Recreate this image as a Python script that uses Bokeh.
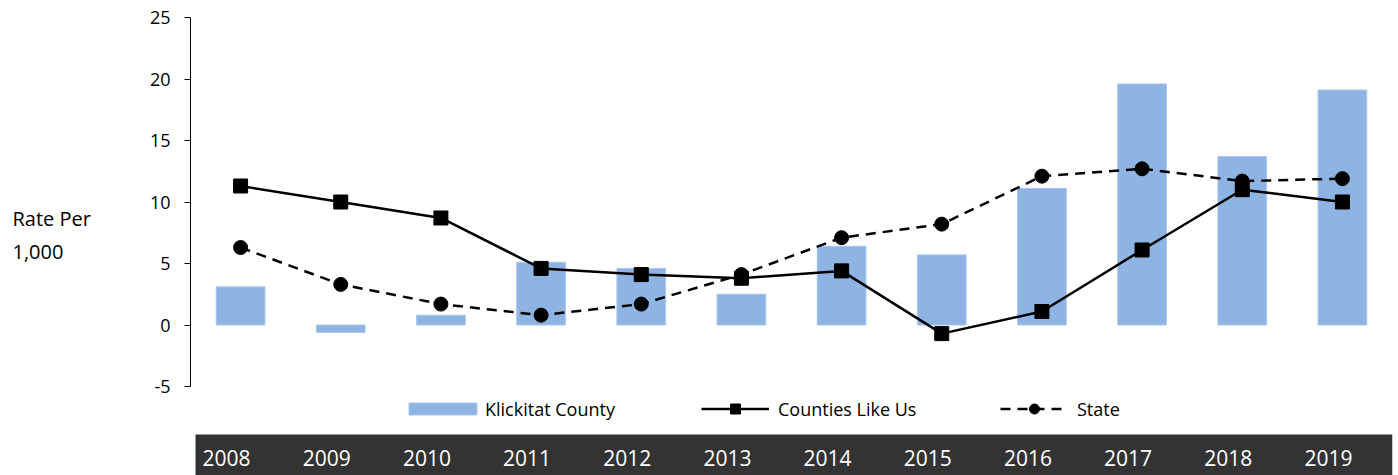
from bokeh.plotting import figure
from bokeh.models import (Range1d, FactorRange, FixedTicker, Legend, LegendItem,
                          PrintfTickFormatter, BoxAnnotation)
from bokeh.layouts import row
from bokeh.embed import file_html
from bokeh.resources import INLINE
from bokeh.core.properties import value

years = ["2008", "2009", "2010", "2011", "2012", "2013",
         "2014", "2015", "2016", "2017", "2018", "2019"]
klickitat = [3.1, -0.6, 0.8, 5.1, 4.6, 2.5, 6.4, 5.7, 11.1, 19.6, 13.7, 19.1]
counties_like_us = [11.3, 10.0, 8.7, 4.6, 4.1, 3.8, 4.4, -0.7, 1.1, 6.1, 11.0, 10.0]
state = [6.3, 3.3, 1.7, 0.8, 1.7, 4.1, 7.1, 8.2, 12.1, 12.7, 11.7, 11.9]
y_ticks = [-5, 0, 5, 10, 15, 20, 25]
y_label_lines = ["Rate Per", "1,000"]

FONT = "Open Sans"
BAR_COLOR = "#8EB4E3"
BAND_COLOR = "#333333"

# layout geometry (pixels)
W, H = 1398, 475
LABEL_W = 145
TOP = 17            # frame top (y = 25)
AXIS_BOTTOM = 386   # pixel row of y = -5
y_min, y_max = y_ticks[0], y_ticks[-1]
px_per_unit = (AXIS_BOTTOM - TOP) / (y_max - y_min)


def px_to_y(py):
    return y_max - (py - TOP) / px_per_unit


y_range = Range1d(px_to_y(H), y_max)

p = figure(width=W - LABEL_W, height=H,
           x_range=FactorRange(*years, range_padding=0),
           y_range=y_range,
           output_backend="svg", toolbar_location=None,
           x_axis_location=None,
           min_border_left=45, min_border_right=6,
           min_border_top=TOP, min_border_bottom=0)
p.outline_line_color = None
p.xgrid.visible = False
p.ygrid.visible = False

ax = p.yaxis[0]
ax.bounds = (y_min, y_max)
ax.ticker = FixedTicker(ticks=y_ticks)
ax.formatter = PrintfTickFormatter(format="%d")
ax.minor_tick_line_color = None
ax.major_tick_in = 0
ax.major_tick_out = 6
ax.major_label_standoff = 14
ax.axis_line_color = "black"
ax.major_tick_line_color = "black"
ax.major_label_text_font = FONT
ax.major_label_text_font_size = "18px"
ax.major_label_text_color = "black"

r_bar = p.vbar(x=years, top=klickitat, bottom=0, width=0.486,
               fill_color=BAR_COLOR, line_color="#A9C6EC", line_width=1)

r_cl = p.line(years, counties_like_us, line_color="black", line_width=2.5)
r_cm = p.scatter(years, counties_like_us, marker="square", size=14,
                 fill_color="black", line_color="black", line_width=1)
r_sl = p.line(years, state, line_color="black", line_width=2.5, line_dash="10 7")
r_sm = p.scatter(years, state, marker="circle", size=14,
                 fill_color="black", line_color="black", line_width=1)

# dark band with year labels at the bottom
p.add_layout(BoxAnnotation(top=px_to_y(434), left=0.05,
                           fill_color=BAND_COLOR, fill_alpha=1.0,
                           line_color=None, level="underlay"))
p.text(x=years, y=px_to_y(457.5), text=years, text_color="white",
       text_font=value(FONT), text_font_size="21px",
       text_align="center", text_baseline="middle", x_offset=-14)

common = dict(orientation="horizontal", padding=0, margin=0,
              border_line_color=None, background_fill_alpha=0,
              label_text_font=FONT, label_text_font_size="18px",
              label_text_color="black", label_height=25)
LEG_Y = H - 421
leg1 = Legend(items=[LegendItem(label="Klickitat County", renderers=[r_bar])],
              location=(210, LEG_Y), glyph_width=85, glyph_height=15,
              label_standoff=0, **common)
leg2 = Legend(items=[LegendItem(label="Counties Like Us", renderers=[r_cl, r_cm])],
              location=(511, LEG_Y), glyph_width=68, glyph_height=25,
              label_standoff=9, **common)
leg3 = Legend(items=[LegendItem(label="State", renderers=[r_sl, r_sm])],
              location=(810, LEG_Y), glyph_width=68, glyph_height=25,
              label_standoff=9, **common)
for lg in (leg1, leg2, leg3):
    p.add_layout(lg)

# left-hand "Rate Per 1,000" label
lab = figure(width=LABEL_W, height=H, x_range=Range1d(0, 1), y_range=y_range,
             output_backend="svg", toolbar_location=None,
             x_axis_location=None, y_axis_location=None,
             min_border_left=0, min_border_right=0,
             min_border_top=TOP, min_border_bottom=0)
lab.outline_line_color = None
lab.xgrid.visible = False
lab.ygrid.visible = False
lab.text(x=0, y=[px_to_y(218), px_to_y(251.5)], text=y_label_lines,
         text_color="black", text_font=value(FONT), text_font_size="20px",
         text_align="left", text_baseline="middle", x_offset=12)

layout = row(lab, p, spacing=0)
open("out.html", "w").write(file_html(layout, INLINE))
